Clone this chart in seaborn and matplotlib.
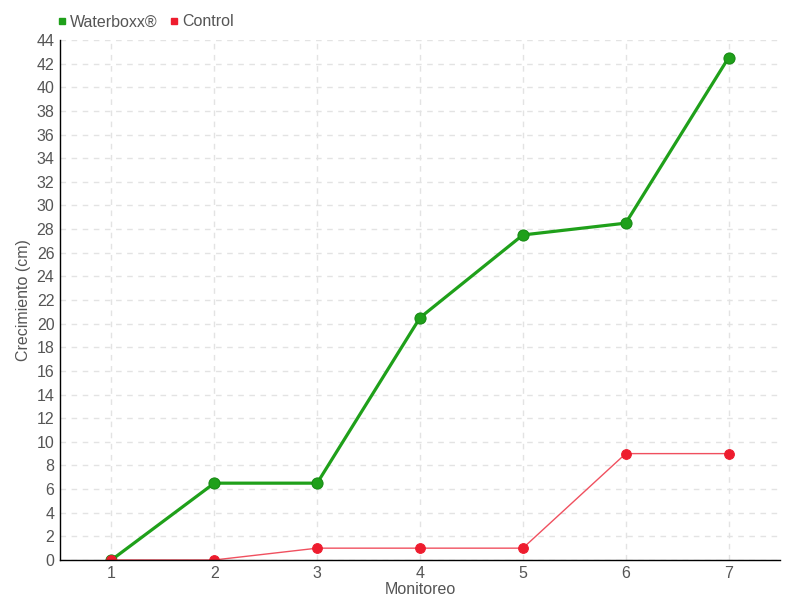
import pandas as pd
import seaborn as sns
import matplotlib.pyplot as plt
from matplotlib.lines import Line2D

monitoreo = [1, 2, 3, 4, 5, 6, 7]
waterboxx = [0, 6.5, 6.5, 20.5, 27.5, 28.5, 42.5]
control = [0, 0, 1, 1, 1, 9, 9]

df = pd.DataFrame({
    "Monitoreo": monitoreo * 2,
    "Crecimiento": waterboxx + control,
    "Serie": ["Waterboxx®"] * 7 + ["Control"] * 7,
})

sns.set_style("white")
plt.rcParams["font.family"] = ["Liberation Sans", "DejaVu Sans"]
txt = "#555555"

fig = plt.figure(figsize=(8, 6), dpi=100)
ax = fig.add_axes([0.075, 0.0667, 0.9, 0.8667])

green = "#1fa01a"
red = "#ee1c2e"

sns.lineplot(data=df[df.Serie == "Waterboxx®"], x="Monitoreo", y="Crecimiento",
             color=green, linewidth=2.3, marker="o", markersize=8,
             markeredgecolor="#178a14", ax=ax, legend=False)
sns.lineplot(data=df[df.Serie == "Control"], x="Monitoreo", y="Crecimiento",
             color="#f0505f", linewidth=1, marker="o", markersize=7,
             markerfacecolor=red, markeredgecolor=red, ax=ax, legend=False)

ax.set_xlim(0.5, 7.5)
ax.set_ylim(0, 44)
ax.set_xticks(monitoreo)
ax.set_yticks(range(0, 45, 2))
ax.grid(True, color="#e3e3e3", linestyle=(0, (4, 4)), linewidth=1)
for s in ["top", "right"]:
    ax.spines[s].set_visible(False)
for s in ["left", "bottom"]:
    ax.spines[s].set_color("black")
    ax.spines[s].set_linewidth(1)
ax.tick_params(axis="both", direction="inout", length=6, width=1, colors="black",
               labelcolor=txt, labelsize=11.5, pad=1)
ax.set_xlabel("Monitoreo", color=txt, fontsize=11.5, labelpad=1)
ax.set_ylabel("Crecimiento (cm)", color=txt, fontsize=11.5, labelpad=4)

handles = [
    Line2D([], [], marker="s", color=green, linestyle="", markersize=5),
    Line2D([], [], marker="s", color=red, linestyle="", markersize=5),
]
fig.legend(handles, ["Waterboxx®", "Control"], loc="upper left",
           bbox_to_anchor=(0.05, 1.0), ncol=2, frameon=False,
           handletextpad=0.0, columnspacing=0.5, handlelength=1.0,
           labelcolor=txt, fontsize=11.5)

fig.savefig("out.png", dpi=100)
